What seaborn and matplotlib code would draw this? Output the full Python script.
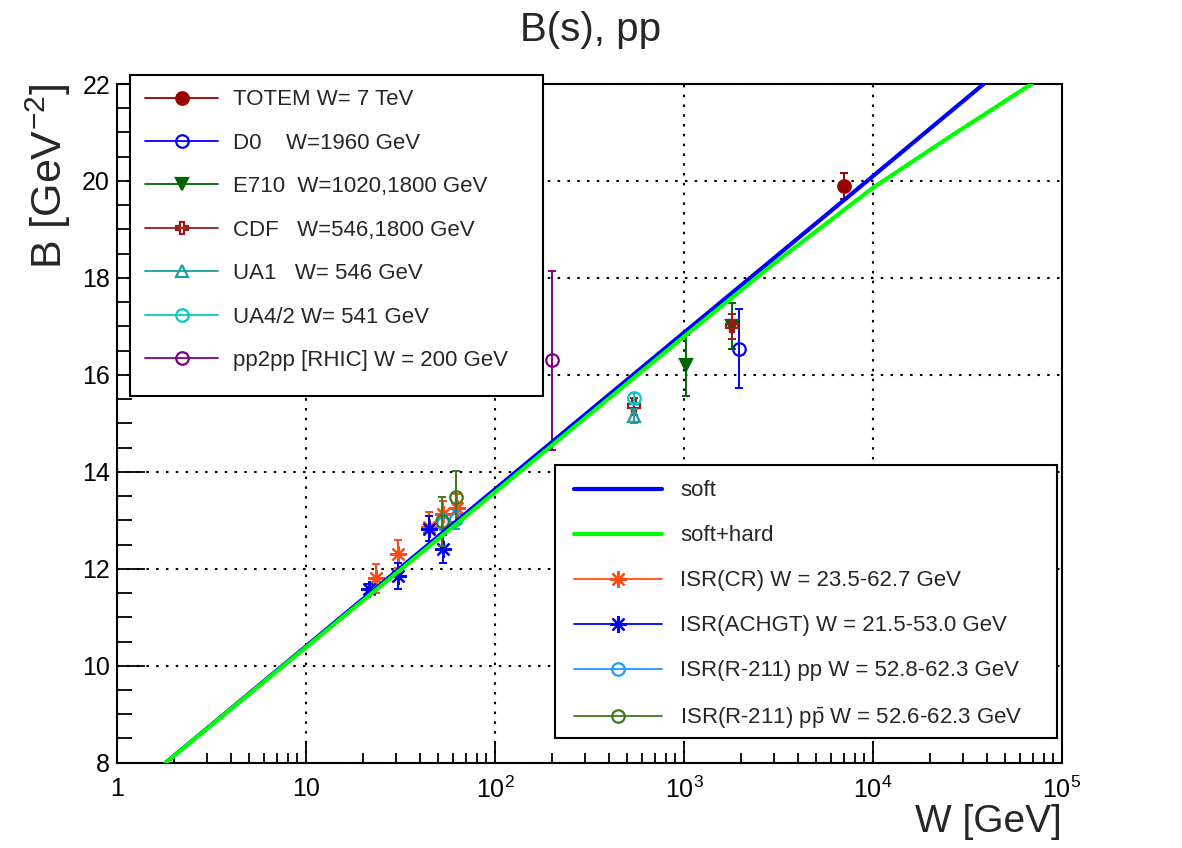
import matplotlib
matplotlib.use("Agg")
import numpy as np
import pandas as pd
import matplotlib.pyplot as plt
import seaborn as sns
from matplotlib.lines import Line2D
from matplotlib.patches import Rectangle
from matplotlib.ticker import LogLocator, FixedLocator, MultipleLocator, NullFormatter

# --- courbes du modèle ---
soft_W = [1.81, 10, 100, 1000, 10000, 38500]
soft_B = [8.0, 10.40, 13.64, 16.87, 20.10, 22.0]
hard_W = [1.81, 10, 100, 1000, 3000, 10000, 25000, 69000]
hard_B = [8.0, 10.38, 13.58, 16.79, 18.30, 19.86, 20.89, 22.0]

# --- points expérimentaux ---
totem_W, totem_B, totem_err = [7000], [19.9], [0.27]
d0_W, d0_B, d0_err = [1960], [16.54], [0.81]
e710_W, e710_B, e710_err = [1020, 1800], [16.2, 17.01], [0.63, 0.48]
cdf_W, cdf_B, cdf_err = [546, 1800], [15.35, 17.0], [0.17, 0.25]
ua1_W, ua1_B, ua1_err = [546], [15.15], [0.15]
ua4_W, ua4_B, ua4_err = [541], [15.52], [0.1]
pp2pp_W, pp2pp_B, pp2pp_err = [200], [16.3], [1.84]
cr_W = [23.5, 30.6, 44.7, 52.8, 62.7]
cr_B = [11.8, 12.3, 12.87, 13.12, 13.25]
cr_err = [0.3, 0.29, 0.3, 0.28, 0.3]
achgt_W = [21.5, 30.6, 44.7, 52.8]
achgt_B = [11.58, 11.85, 12.83, 12.40]
achgt_err = [0.1, 0.27, 0.25, 0.29]
r211pp_W, r211pp_B, r211pp_err = [52.8, 62.3], [12.95, 13.02], [0.15, 0.2]
r211pb_W, r211pb_B, r211pb_err = [52.6, 62.3], [12.98, 13.49], [0.5, 0.53]

xtick_vals = [1, 10, 100, 1000, 10000, 100000]
xtick_labels = ["1", "10", r"$\mathregular{10^{2}}$", r"$\mathregular{10^{3}}$",
                r"$\mathregular{10^{4}}$", r"$\mathregular{10^{5}}$"]

sns.set_theme(style="ticks")
plt.rcParams['font.family'] = ['Liberation Sans', 'DejaVu Sans']
plt.rcParams['mathtext.fontset'] = 'custom'
plt.rcParams['mathtext.rm'] = 'Liberation Sans'
plt.rcParams['mathtext.it'] = 'Liberation Sans:italic'
plt.rcParams['mathtext.bf'] = 'Liberation Sans:bold'

fig = plt.figure(figsize=(11.82, 8.48), dpi=100)
ax = fig.add_axes([117 / 1182, 1 - 762.7 / 848, 945 / 1182, 678.7 / 848])
ax.set_xscale('log')

# points avec barres d'erreur
series = [
    (totem_W, totem_B, totem_err, 'o', '#990000', True),
    (d0_W, d0_B, d0_err, 'o', '#0000ff', False),
    (e710_W, e710_B, e710_err, 'v', '#006600', True),
    (cdf_W, cdf_B, cdf_err, 'P', '#991a1a', False),
    (ua1_W, ua1_B, ua1_err, '^', '#1a9e9e', False),
    (ua4_W, ua4_B, ua4_err, 'o', '#00cccc', False),
    (pp2pp_W, pp2pp_B, pp2pp_err, 'o', '#800080', False),
    (cr_W, cr_B, cr_err, (8, 2, 0), '#ff4a1a', True),
    (achgt_W, achgt_B, achgt_err, (8, 2, 0), '#0000ff', True),
    (r211pp_W, r211pp_B, r211pp_err, 'o', '#1a99ff', False),
    (r211pb_W, r211pb_B, r211pb_err, 'o', '#3d7a1a', False),
]
for W, B, err, m, c, filled in series:
    ms = 12 if m == (8, 2, 0) else 9
    ax.errorbar(W, B, yerr=err, fmt='none', ecolor=c, elinewidth=1.4,
                capsize=2.8, capthick=1.4, zorder=3)
    ax.plot(W, B, ls='none', marker=m, ms=ms, mec=c, mew=1.6,
            mfc=c if filled else 'none', zorder=3)

# courbes
df_soft = pd.DataFrame({'W': soft_W, 'B': soft_B})
df_hard = pd.DataFrame({'W': hard_W, 'B': hard_B})
sns.lineplot(data=df_soft, x='W', y='B', ax=ax, color='#0000ff', lw=3,
             sort=False, estimator=None, zorder=4)
sns.lineplot(data=df_hard, x='W', y='B', ax=ax, color='#00ff00', lw=3,
             sort=False, estimator=None, zorder=4)

ax.set_xlim(1, 1e5)
ax.set_ylim(8, 22)
ax.xaxis.set_major_locator(FixedLocator(xtick_vals))
ax.set_xticklabels(xtick_labels)
ax.xaxis.set_minor_locator(LogLocator(base=10, subs=np.arange(2, 10), numticks=20))
ax.xaxis.set_minor_formatter(NullFormatter())
ax.yaxis.set_major_locator(MultipleLocator(2))
ax.yaxis.set_minor_locator(MultipleLocator(0.5))
ax.tick_params(which='both', direction='in', top=False, right=False,
               width=1.3, color='black', labelsize=18, labelcolor='black')
ax.tick_params(axis='x', which='major', length=16, pad=10)
ax.tick_params(axis='x', which='minor', length=7)
ax.tick_params(axis='y', which='major', length=20, pad=5)
ax.tick_params(axis='y', which='minor', length=11)
ax.grid(True, which='major', color='black', ls=(0, (1.2, 3.5)), lw=1.5)
ax.set_axisbelow(True)
for s in ax.spines.values():
    s.set_color('black')
    s.set_linewidth(1.5)
ax.set_xlabel('')
ax.set_ylabel('')

# légendes (cadres à la ROOT)
ax.add_patch(Rectangle((0.01376, 0.5403), 0.4370, 0.4730, transform=ax.transAxes,
                       facecolor='white', edgecolor='black', lw=1.5,
                       clip_on=False, zorder=6))
ax.add_patch(Rectangle((0.4635, 0.0364), 0.5312, 0.4022, transform=ax.transAxes,
                       facecolor='white', edgecolor='black', lw=1.5,
                       clip_on=False, zorder=6))

def handle(m, c, filled, lw=1.3, ms=9):
    return Line2D([], [], color=c, lw=lw, marker=m, ms=ms, mec=c, mew=1.6,
                  mfc=c if filled else 'none')

h1 = [handle('o', '#990000', True), handle('o', '#0000ff', False),
      handle('v', '#006600', True), handle('P', '#991a1a', False),
      handle('^', '#1a9e9e', False), handle('o', '#00cccc', False),
      handle('o', '#800080', False)]
l1 = ["TOTEM W= 7 TeV", "D0    W=1960 GeV", "E710  W=1020,1800 GeV",
      "CDF   W=546,1800 GeV", "UA1   W= 546 GeV", "UA4/2 W= 541 GeV",
      "pp2pp [RHIC] W = 200 GeV"]
leg1 = ax.legend(h1, l1, loc='upper left', bbox_to_anchor=(0.0296, 0.9922),
                 borderaxespad=0, borderpad=0, frameon=False, fontsize=16,
                 labelspacing=1.01, handlelength=3.29, handletextpad=0.68)
leg1.set_zorder(7)
ax.add_artist(leg1)

h2 = [Line2D([], [], color='#0000ff', lw=3), Line2D([], [], color='#00ff00', lw=3),
      handle((8, 2, 0), '#ff4a1a', True, ms=12), handle((8, 2, 0), '#0000ff', True, ms=12),
      handle('o', '#1a99ff', False), handle('o', '#3d7a1a', False)]
l2 = ["soft", "soft+hard", "ISR(CR) W = 23.5-62.7 GeV",
      "ISR(ACHGT) W = 21.5-53.0 GeV", "ISR(R-211) pp W = 52.8-62.3 GeV",
      r"ISR(R-211) p$\mathregular{\bar{p}}$ W = 52.6-62.3 GeV"]
leg2 = ax.legend(h2, l2, loc='upper left', bbox_to_anchor=(0.4836, 0.4161),
                 borderaxespad=0, borderpad=0, frameon=False, fontsize=16,
                 labelspacing=1.08, handlelength=3.96, handletextpad=0.81)
leg2.set_zorder(7)

# titres
fig.text(0.5, 1 - 30 / 848, "B(s), pp", ha='center', va='center', fontsize=29)
fig.text(48 / 1182, 1 - 84 / 848, r"B [GeV$\mathregular{^{-2}}$]", rotation=90,
         rotation_mode='anchor', ha='right', va='center', fontsize=31)
fig.text(1062 / 1182, 1 - 822 / 848, "W [GeV]", ha='right', va='center', fontsize=28)

fig.savefig("out.png", dpi=100)
